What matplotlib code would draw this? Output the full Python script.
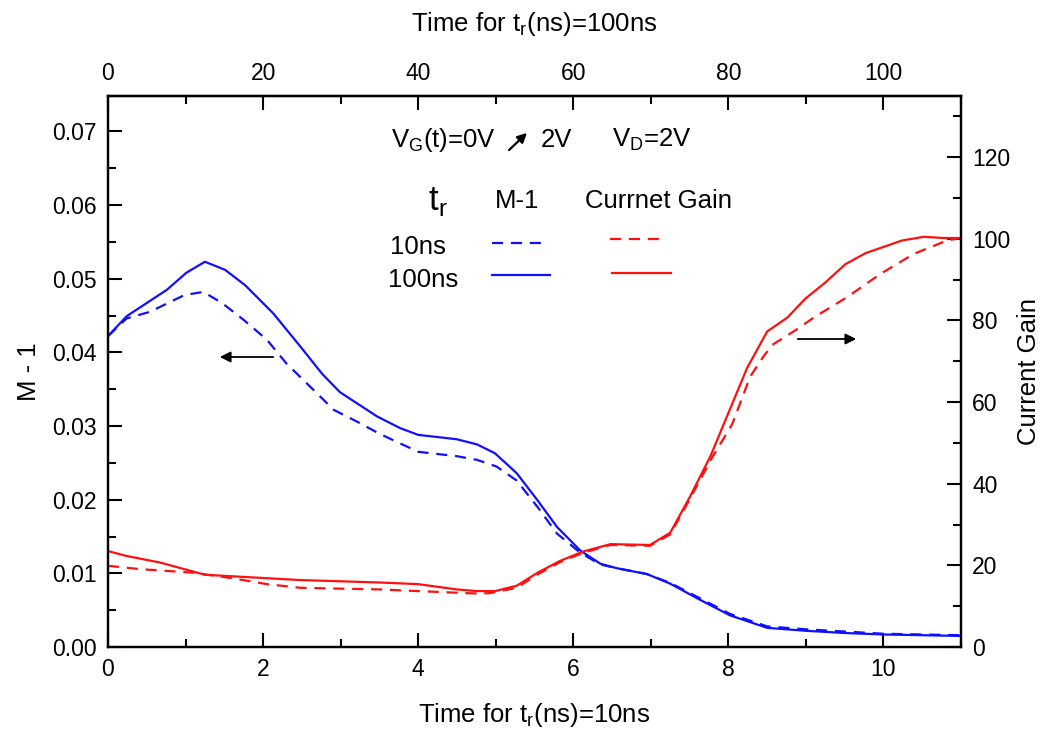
import matplotlib
matplotlib.use("Agg")
import matplotlib.pyplot as plt
from matplotlib.ticker import MultipleLocator

plt.rcParams['font.family'] = ['Liberation Sans', 'DejaVu Sans']

# ---- data ----
m1_x100 = [0, 0.24, 0.76, 1.01, 1.25, 1.51, 1.77, 2.13, 2.48, 2.76, 2.99, 3.47, 3.77, 4.0, 4.5,
           4.76, 4.99, 5.27, 5.54, 5.79, 6.09, 6.35, 6.56, 6.95, 7.25, 7.6, 8.02, 8.5, 9.0, 9.5,
           10.0, 10.5, 11.0]
m1_100 = [0.0422, 0.0449, 0.0485, 0.0508, 0.0523, 0.0512, 0.0491, 0.0453, 0.0408, 0.0371, 0.0346,
          0.0313, 0.0297, 0.0288, 0.0282, 0.0275, 0.0263, 0.0236, 0.0199, 0.0163, 0.0131, 0.0113,
          0.0107, 0.0099, 0.0086, 0.0066, 0.0043, 0.0026, 0.0022, 0.0019, 0.0017, 0.0016, 0.0015]

m1_x10 = [0, 0.24, 0.54, 0.99, 1.23, 1.47, 1.75, 2.05, 2.3, 2.65, 2.91, 3.21, 3.51, 4.0, 4.5,
          4.76, 5.01, 5.27, 5.54, 5.79, 6.09, 6.35, 6.56, 6.95, 7.25, 7.6, 8.02, 8.5, 9.0, 9.5,
          10.0, 10.5, 11.0]
m1_10 = [0.0422, 0.0446, 0.0455, 0.0478, 0.0482, 0.0467, 0.0444, 0.0417, 0.0385, 0.0349, 0.0322,
         0.0306, 0.0289, 0.0265, 0.0259, 0.0254, 0.0245, 0.0226, 0.0190, 0.0154, 0.0128, 0.0112,
         0.0107, 0.0099, 0.0087, 0.0068, 0.0045, 0.0028, 0.0024, 0.0021, 0.0018, 0.0017, 0.0016]

gain_x100 = [0, 0.24, 0.67, 1.25, 2.48, 3.51, 4.0, 4.5, 4.76, 4.99, 5.27, 5.54, 5.83, 6.13, 6.48,
             6.99, 7.25, 7.51, 7.77, 8.03, 8.24, 8.5, 8.76, 8.99, 9.25, 9.51, 9.77, 10.24, 10.52,
             10.78, 11.0]
gain_100 = [23.5, 22.3, 20.7, 17.7, 16.4, 15.8, 15.4, 14.1, 13.7, 13.7, 15.0, 18.2, 21.1, 23.4,
            25.2, 25.0, 28.0, 37.0, 46.8, 58.7, 68.3, 77.3, 80.7, 85.3, 89.3, 93.8, 96.5, 99.6,
            100.5, 100.2, 100.2]

gain_x10 = [0, 0.4, 1.1, 1.62, 2.05, 2.48, 3.51, 4.0, 4.5, 4.76, 4.92, 5.27, 5.54, 5.83, 6.13,
            6.48, 6.99, 7.25, 7.49, 7.79, 8.05, 8.28, 8.46, 8.58, 8.89, 9.1, 9.53, 9.96, 10.39,
            10.82, 11.0]
gain_10 = [19.9, 19.1, 18.2, 16.8, 15.4, 14.5, 14.1, 13.7, 13.3, 13.1, 13.2, 14.5, 17.8, 20.8,
           23.1, 25.0, 24.8, 27.6, 35.8, 46.4, 54.6, 66.2, 71.4, 74.2, 77.9, 80.7, 85.7, 91.4,
           96.3, 99.6, 100.2]

left_ticks = [0.00, 0.01, 0.02, 0.03, 0.04, 0.05, 0.06, 0.07]
right_ticks = [0, 20, 40, 60, 80, 100, 120]
bottom_ticks = [0, 2, 4, 6, 8, 10]
top_ticks = [0, 20, 40, 60, 80, 100]

W, H = 1041, 733
fig = plt.figure(figsize=(W / 100, H / 100), dpi=100)
ax = fig.add_axes([108 / W, 1 - 647 / H, (961 - 108) / W, (647 - 96) / H])
ax2 = ax.twinx()

dash = (0, (5, 3.5))
ax.plot(m1_x10, m1_10, color='#1010ff', lw=1.6, linestyle=dash)
ax.plot(m1_x100, m1_100, color='#1010ff', lw=1.6)
ax2.plot(gain_x10, gain_10, color='#ff1010', lw=1.6, linestyle=dash)
ax2.plot(gain_x100, gain_100, color='#ff1010', lw=1.6)

ax.set_xlim(0, 11)
ax.set_ylim(0, 0.0748)
ax2.set_ylim(0, 135)

ax.set_xticks(bottom_ticks)
ax.xaxis.set_minor_locator(MultipleLocator(1))
ax.set_yticks(left_ticks)
ax.set_yticklabels([f"{v:.2f}" for v in left_ticks])
ax.yaxis.set_minor_locator(MultipleLocator(0.005))
ax2.set_yticks(right_ticks)
ax2.yaxis.set_minor_locator(MultipleLocator(10))

secx = ax.secondary_xaxis('top', functions=(lambda x: x * 10, lambda x: x / 10))
secx.set_xticks(top_ticks)
secx.xaxis.set_minor_locator(MultipleLocator(10))

for a in (ax, ax2, secx):
    a.tick_params(which='major', direction='in', length=10, width=1.5, labelsize=16.5, pad=8)
    a.tick_params(which='minor', direction='in', length=6, width=1.5)
for a in (ax, ax2):
    for s in a.spines.values():
        s.set_linewidth(1.6)
secx.spines['top'].set_linewidth(1.6)
ax.tick_params(axis='y', which='both', right=False)

lfs = 18.5
ax.set_ylabel('M - 1', fontsize=lfs, labelpad=8)
ax2.set_ylabel('Current Gain', fontsize=lfs, labelpad=5)
ax.set_xlabel('Time for t$_\\mathregular{r}$(ns)=10ns', fontsize=lfs, labelpad=14)
secx.set_xlabel('Time for t$_\\mathregular{r}$(ns)=100ns', fontsize=lfs, labelpad=22)

def fx(px):
    return px / W

def fy(py):
    return 1 - py / H

fs = 18.5
fig.text(fx(391), fy(140), 'V$_\\mathregular{G}$(t)=0V', fontsize=fs, va='center', ha='left')
fig.text(fx(541), fy(140), '2V', fontsize=fs, va='center', ha='left')
fig.text(fx(612), fy(140), 'V$_\\mathregular{D}$=2V', fontsize=fs, va='center', ha='left')
fig.add_artist(matplotlib.patches.FancyArrowPatch((fx(507), fy(152)), (fx(529), fy(131)),
               transform=fig.transFigure, arrowstyle='-|>', mutation_scale=14, color='black', lw=1.6))

fig.text(fx(428), fy(201), 't$_\\mathregular{r}$', fontsize=25, va='center', ha='left')
fig.text(fx(495), fy(201), 'M-1', fontsize=fs, va='center', ha='left')
fig.text(fx(585), fy(201), 'Currnet Gain', fontsize=fs, va='center', ha='left')
fig.text(fx(390), fy(247), '10ns', fontsize=fs, va='center', ha='left')
fig.text(fx(388), fy(280), '100ns', fontsize=fs, va='center', ha='left')

fig.add_artist(plt.Line2D([fx(492), fx(541)], [fy(243), fy(243)], transform=fig.transFigure,
                          color='#1010ff', lw=1.6, linestyle=dash))
fig.add_artist(plt.Line2D([fx(492), fx(550)], [fy(275), fy(275)], transform=fig.transFigure,
                          color='#1010ff', lw=1.6))
fig.add_artist(plt.Line2D([fx(610), fx(659)], [fy(239), fy(239)], transform=fig.transFigure,
                          color='#ff1010', lw=1.6, linestyle=dash))
fig.add_artist(plt.Line2D([fx(612), fx(671)], [fy(273), fy(273)], transform=fig.transFigure,
                          color='#ff1010', lw=1.6))

# direction arrows
fig.add_artist(matplotlib.patches.FancyArrowPatch((fx(276), fy(357)), (fx(217), fy(357)),
               transform=fig.transFigure, arrowstyle='-|>', mutation_scale=16, color='black', lw=1.3))
fig.add_artist(matplotlib.patches.FancyArrowPatch((fx(795), fy(339)), (fx(859), fy(339)),
               transform=fig.transFigure, arrowstyle='-|>', mutation_scale=16, color='black', lw=1.3))

fig.savefig('out.png', dpi=100)
